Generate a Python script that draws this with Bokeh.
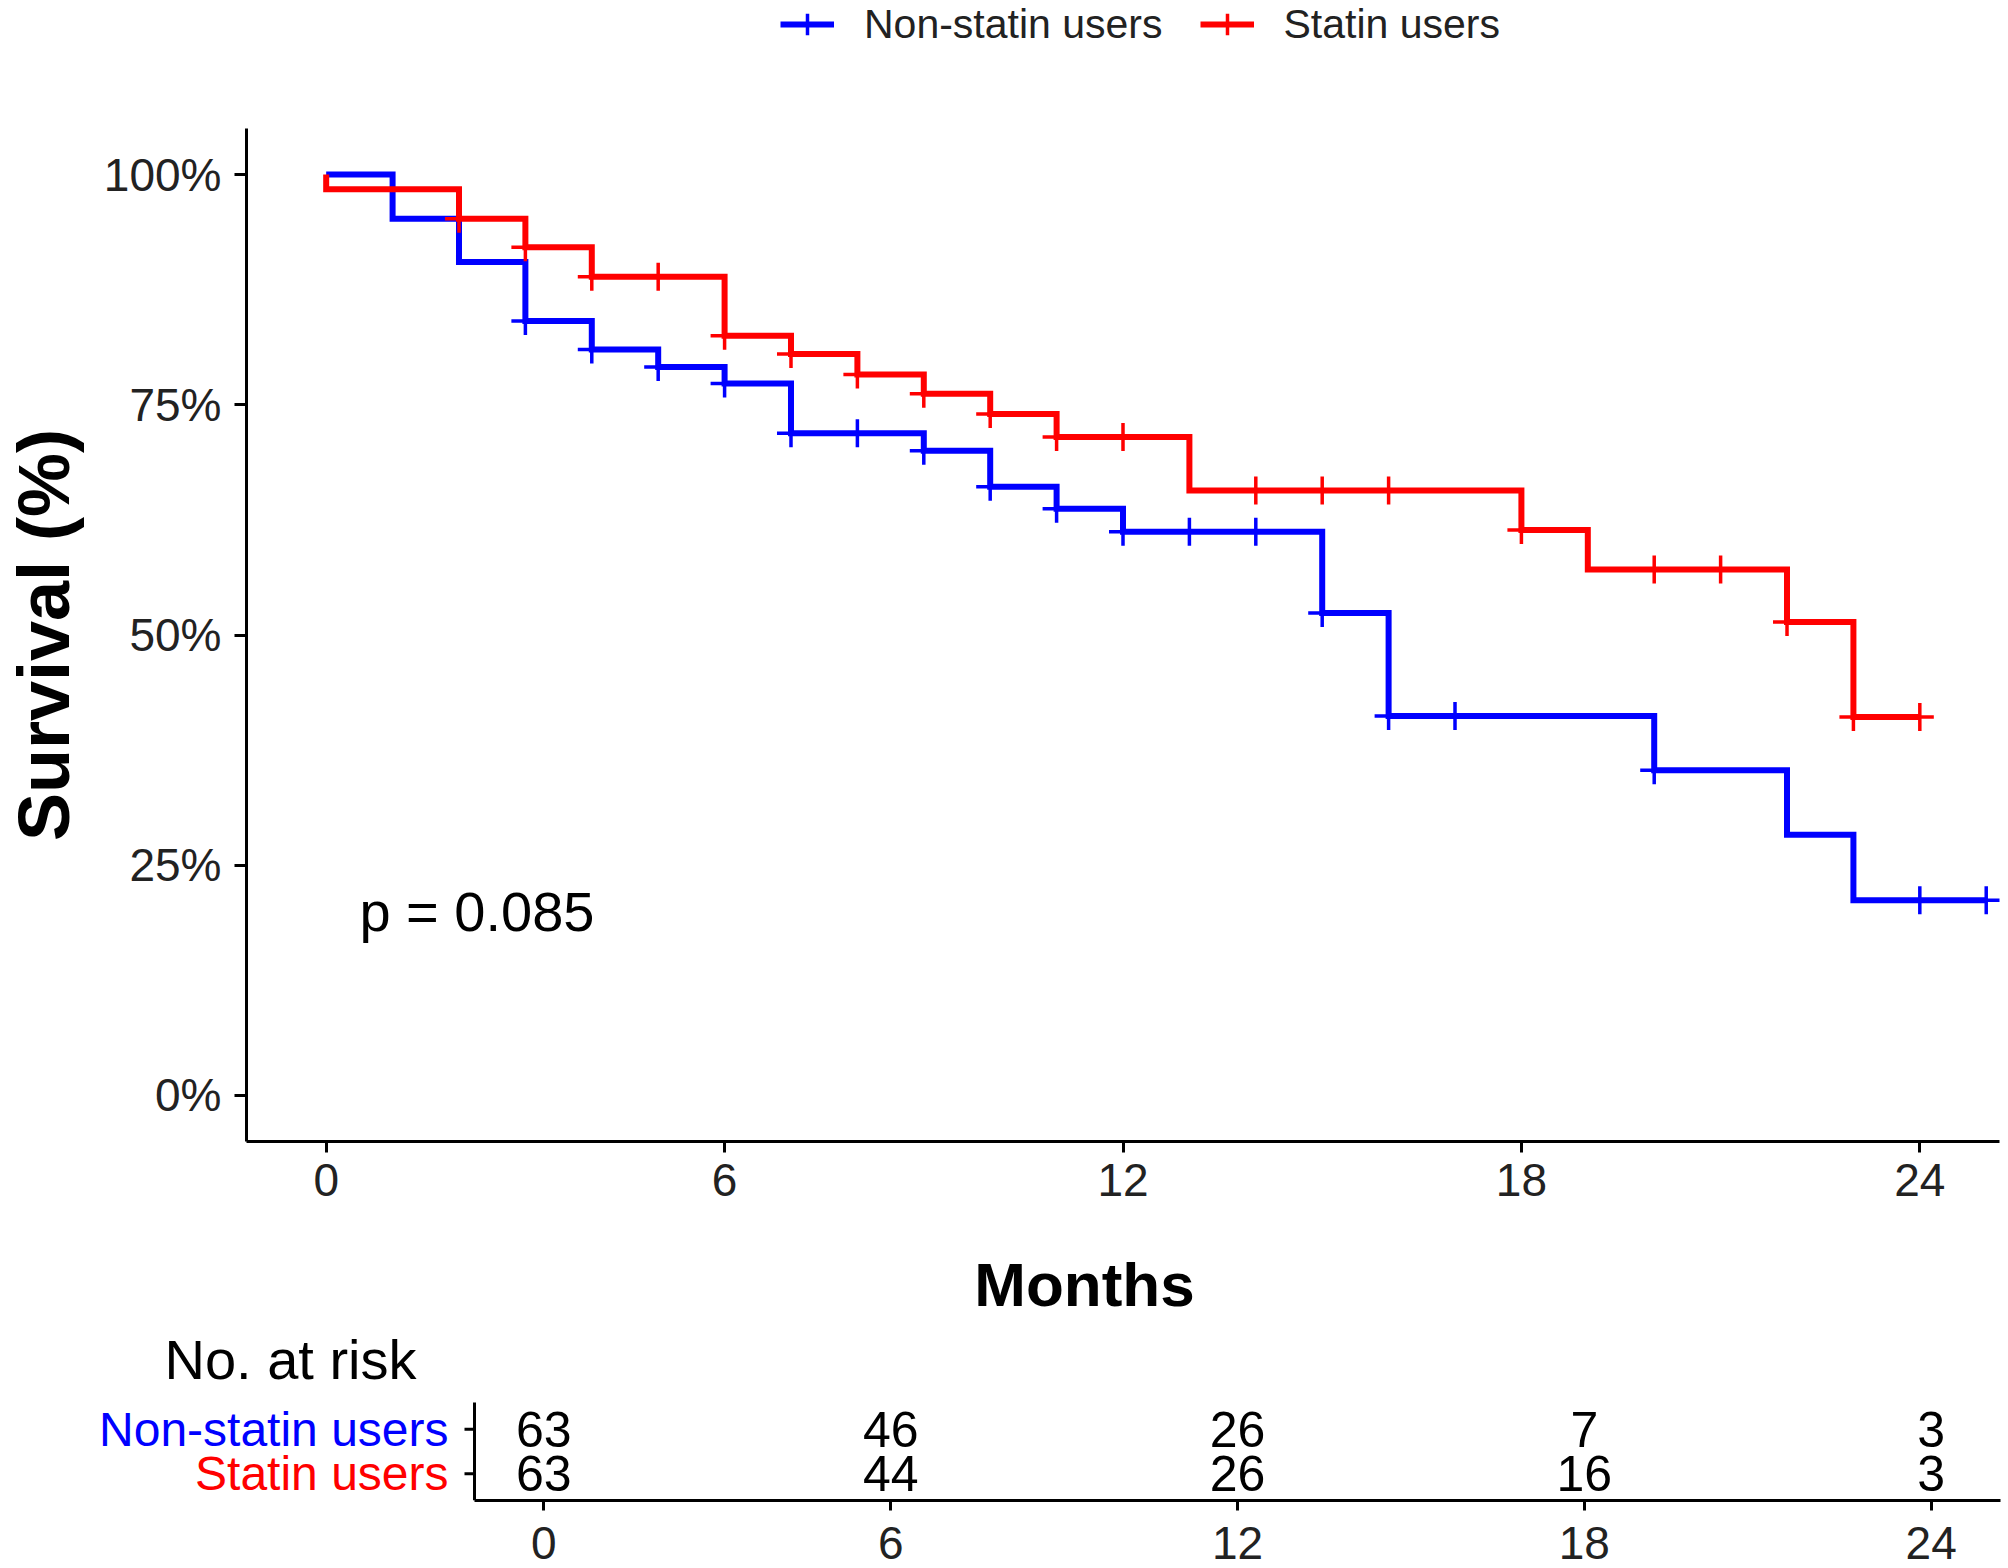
import math
from bokeh.plotting import figure
from bokeh.models import (FixedTicker, PrintfTickFormatter, Label, Legend,
                          LegendItem, Range1d)
from bokeh.core.properties import value
from bokeh.embed import file_html
from bokeh.resources import INLINE

FONT = "Liberation Sans"
BLUE = "#0000FF"
RED = "#FF0000"

# ---------------- data ----------------
ns_time = [0, 1, 2, 3, 4, 5, 6, 7, 9, 10, 11, 12, 15, 16, 20, 22, 23, 25]
ns_surv = [100, 95.2, 90.5, 84.1, 81.0, 79.1, 77.3, 71.9, 70.0, 66.1, 63.7,
           61.2, 52.4, 41.2, 35.3, 28.3, 21.2, 21.2]
ns_cens_time = [3, 4, 5, 6, 7, 8, 9, 10, 11, 12, 13, 14, 15, 16, 17, 20, 24, 25]
ns_cens_surv = [84.1, 81.0, 79.1, 77.3, 71.9, 71.9, 70.0, 66.1, 63.7, 61.2,
                61.2, 61.2, 52.4, 41.2, 41.2, 35.3, 21.2, 21.2]

s_time = [0, 0, 2, 3, 4, 6, 7, 8, 9, 10, 11, 13, 18, 19, 22, 23, 24]
s_surv = [100, 98.4, 95.2, 92.1, 88.9, 82.5, 80.5, 78.3, 76.2, 74.0, 71.5,
          65.7, 61.4, 57.1, 51.4, 41.1, 41.1]
s_cens_time = [2, 3, 4, 5, 6, 7, 8, 9, 10, 11, 12, 14, 15, 16, 18, 20, 21, 22, 23, 24]
s_cens_surv = [95.2, 92.1, 88.9, 88.9, 82.5, 80.5, 78.3, 76.2, 74.0, 71.5,
               71.5, 65.7, 65.7, 65.7, 61.4, 57.1, 57.1, 51.4, 41.1, 41.1]

x_ticks = [0, 6, 12, 18, 24]
y_ticks = [0, 25, 50, 75, 100]

risk_times = [0, 6, 12, 18, 24]
risk_ns = [63, 46, 26, 7, 3]
risk_s = [63, 44, 26, 16, 3]
groups = ["Non-statin users", "Statin users"]
group_colors = [BLUE, RED]
group_rows = [2, 1]
p_text = "p = 0.085"

X_LO, X_HI = -1.2, 25.2        # month axis extent (ggplot 5% expansion)
Y_LO, Y_HI = -5, 105           # survival axis extent
ROW_LO, ROW_HI = 0.4, 2.6      # risk-table row axis extent


def style_axis(ax, size="46px", tick_out=12):
    ax.axis_line_width = 3
    ax.major_tick_line_width = 3
    ax.major_tick_out = tick_out
    ax.major_tick_in = 0
    ax.minor_tick_out = 0
    ax.minor_tick_in = 0
    ax.major_label_text_font = FONT
    ax.major_label_text_font_size = size
    ax.major_label_text_color = "#222222"


def draw_curves(fig):
    a = fig.step(ns_time, ns_surv, mode="after", line_width=6,
                 line_color=BLUE, line_join="miter")
    b = fig.scatter(ns_cens_time, ns_cens_surv, marker="cross", size=28,
                    line_width=3.5, line_color=BLUE)
    c = fig.step(s_time, s_surv, mode="after", line_width=6,
                 line_color=RED, line_join="miter")
    d = fig.scatter(s_cens_time, s_cens_surv, marker="cross", size=28,
                    line_width=3.5, line_color=RED)
    return a, b, c, d


# ---------------- legend strip (top) ----------------
# same series drawn again, but its y range lies above the data, so only
# the legend (which needs renderers with data) is visible here.
lg = figure(frame_width=2008, frame_height=128, min_border_left=0,
            min_border_right=0, min_border_top=0, min_border_bottom=0,
            x_range=Range1d(X_LO, X_HI), y_range=Range1d(1000, 1001),
            x_axis_location=None, y_axis_location=None,
            output_backend="svg", toolbar_location=None)
lg.grid.visible = False
lg.outline_line_color = None
k1, m1, k2, m2 = draw_curves(lg)

legend = Legend(items=[LegendItem(label=groups[0], renderers=[k1, m1]),
                       LegendItem(label=groups[1], renderers=[k2, m2])],
                orientation="horizontal", location=(780, 76))
legend.label_text_font = FONT
legend.label_text_font_size = "41px"
legend.label_text_color = "#222222"
legend.glyph_width = 54
legend.glyph_height = 56
legend.label_height = 40
legend.label_standoff = 30
legend.spacing = 37
legend.padding = 0
legend.margin = 0
legend.border_line_alpha = 0
legend.background_fill_alpha = 0
legend.inactive_fill_alpha = 0
lg.add_layout(legend)

# ---------------- main survival plot ----------------
p = figure(frame_width=1753, frame_height=1013,
           min_border_left=239, min_border_right=8,
           min_border_top=0, min_border_bottom=74,
           x_range=Range1d(X_LO, X_HI), y_range=Range1d(Y_LO, Y_HI),
           output_backend="svg", toolbar_location=None)
p.grid.visible = False
p.outline_line_color = None
draw_curves(p)

style_axis(p.xaxis[0], tick_out=11)
style_axis(p.yaxis[0], tick_out=12)
p.xaxis.ticker = FixedTicker(ticks=x_ticks)
p.yaxis.ticker = FixedTicker(ticks=y_ticks)
p.yaxis.formatter = PrintfTickFormatter(format="%d%%")
p.xaxis.major_label_standoff = 11
p.yaxis.major_label_standoff = 13

p.yaxis.axis_label = "Survival (%)"
p.yaxis.axis_label_text_font = FONT
p.yaxis.axis_label_text_font_style = "bold"
p.yaxis.axis_label_text_font_size = "72px"
p.yaxis.axis_label_text_color = "black"
p.yaxis.axis_label_standoff = 17

p.add_layout(Label(x=0.5, y=20, text=p_text, text_align="left",
                   text_baseline="middle", text_font=FONT,
                   text_font_size="56px", text_color="black"))

# ---------------- lower part: x title + risk table ----------------
r = figure(frame_width=2000, frame_height=285,
           min_border_left=0, min_border_right=8,
           min_border_top=0, min_border_bottom=68,
           x_range=Range1d(-9.4003, X_HI), y_range=Range1d(ROW_LO, 6.798),
           y_axis_location=None,
           output_backend="svg", toolbar_location=None)
r.grid.visible = False
r.outline_line_color = None

style_axis(r.xaxis[0], tick_out=10)
r.xaxis.ticker = FixedTicker(ticks=x_ticks)
r.xaxis.bounds = (X_LO, X_HI)
r.xaxis.major_label_standoff = 16

# risk-table y axis (rule + row ticks) at the start of the month scale
r.segment(x0=X_LO, y0=ROW_LO, x1=X_LO, y1=ROW_HI, line_width=3,
          line_color="black")
r.ray(x=[X_LO] * len(group_rows), y=group_rows, length=10,
      length_units="screen", angle=math.pi, line_width=3, line_color="black")
r.text(x=[X_LO] * len(group_rows), y=group_rows, text=groups,
       text_color=group_colors, x_offset=-26, text_align="right",
       text_baseline="middle", text_font=value(FONT), text_font_size="48px")

r.text(x=risk_times, y=[group_rows[0]] * len(risk_times),
       text=[str(v) for v in risk_ns], text_align="center",
       text_baseline="middle", text_font=value(FONT),
       text_font_size="50px", text_color="black")
r.text(x=risk_times, y=[group_rows[1]] * len(risk_times),
       text=[str(v) for v in risk_s], text_align="center",
       text_baseline="middle", text_font=value(FONT),
       text_font_size="50px", text_color="black")

r.add_layout(Label(x=1084, y=216, x_units="screen", y_units="screen",
                   text="Months", text_align="center", text_baseline="middle",
                   text_font=FONT, text_font_style="bold",
                   text_font_size="62px", text_color="black"))
r.add_layout(Label(x=164, y=141, x_units="screen", y_units="screen",
                   text="No. at risk", text_align="left",
                   text_baseline="middle", text_font=FONT,
                   text_font_size="56px", text_color="black"))

open("out.html", "w").write(file_html([lg, p, r], INLINE))
